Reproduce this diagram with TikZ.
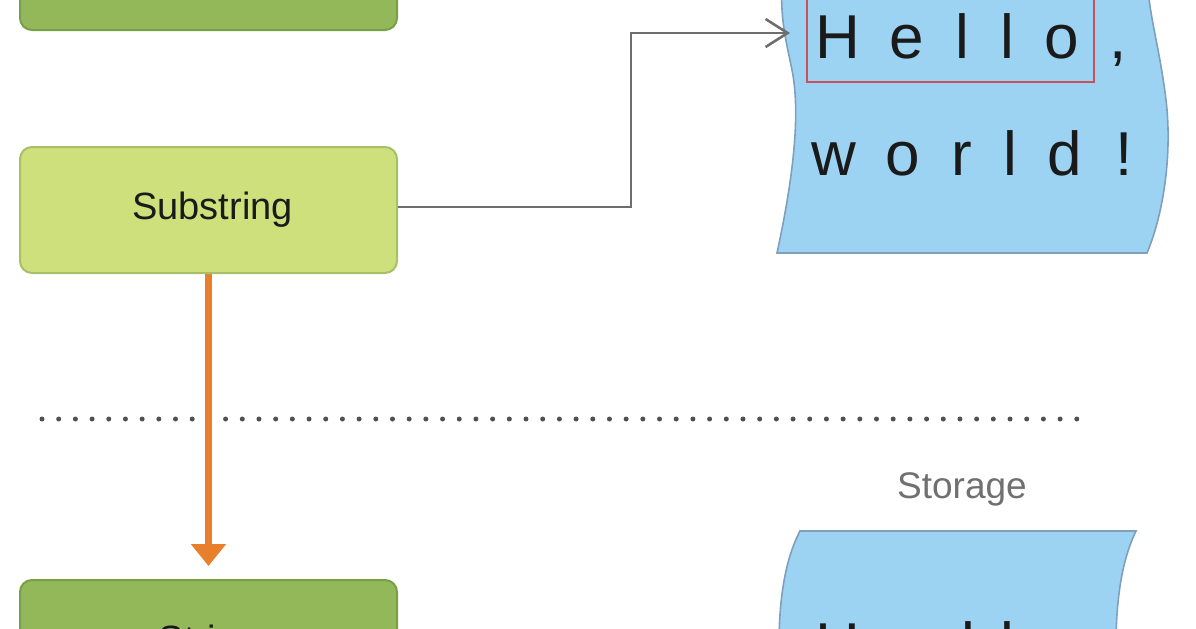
\documentclass[tikz,border=0pt]{standalone}
\usepackage{fontspec}
\setmainfont{Liberation Sans}
\usetikzlibrary{arrows.meta}
\definecolor{gdark}{HTML}{92B85A}
\definecolor{gdarkline}{HTML}{76A047}
\definecolor{glight}{HTML}{CEE07C}
\definecolor{glightline}{HTML}{A7BF68}
\definecolor{bfill}{HTML}{9DD3F2}
\definecolor{bline}{HTML}{7F9FBF}
\definecolor{redbox}{HTML}{C9505C}
\definecolor{orangec}{HTML}{E87F2C}
\definecolor{connc}{HTML}{6E6E6E}
\definecolor{dotc}{HTML}{505050}
\definecolor{labelc}{HTML}{707070}
\definecolor{txt}{HTML}{1A1A1A}
\begin{document}
\begin{tikzpicture}[x=0.5pt,y=-0.5pt,
  box/.style={rectangle, rounded corners=6pt, minimum width=188.5pt, minimum height=63pt, line width=1pt, inner sep=0pt, font=\fontsize{19}{20}\selectfont, text=txt},
  strbox/.style={box, fill=gdark, draw=gdarkline},
  subbox/.style={box, fill=glight, draw=glightline},
  storage/.style={fill=bfill, draw=bline, line width=0.8pt},
  glyph/.style={anchor=base, inner sep=0pt, font=\fontsize{31}{31}\selectfont, text=txt},
  conn/.style={draw=connc, line width=1.3pt, -{Straight Barb[length=11pt,width=14pt,line width=1.3pt]}},
  moveto/.style={draw=orangec, line width=3.5pt, -{Triangle[length=11pt,width=17pt]}},
  lbl/.style={inner sep=0pt, font=\fontsize{18.5}{20}\selectfont, text=labelc}
]
\useasboundingbox (0,0) rectangle (1196,628);
\clip (0,0) rectangle (1196,628);

% top storage shape
\path[storage] (782,-40) -- (782,-20) .. controls (780,20) and (786,40) .. (792,70)
  .. controls (800,110) and (795,170) .. (777,253) -- (1147,253)
  .. controls (1165,210) and (1172,150) .. (1166,100)
  .. controls (1160,50) and (1150,20) .. (1147,-20) -- (1147,-40) -- cycle;
\draw[redbox, line width=1.25pt] (807,-20) rectangle (1094,82);

\node[glyph] (g1) at (838,58) {H};
\node[glyph] (g2) at (907,58) {e};
\node[glyph] (g3) at (962,58) {l};
\node[glyph] (g4) at (1007,58) {l};
\node[glyph] (g5) at (1062,58) {o};
\node[glyph] (g6) at (1118,58) {,};
\node[glyph] (w1) at (834,175) {w};
\node[glyph] (w2) at (903,175) {o};
\node[glyph] (w3) at (962,175) {r};
\node[glyph] (w4) at (1010,175) {l};
\node[glyph] (w5) at (1065,175) {d};
\node[glyph] (w6) at (1124,175) {!};

% bottom storage shape
\path[storage] (800,531) -- (1136,531)
  .. controls (1122,560) and (1115,600) .. (1116,660) -- (779,660)
  .. controls (778,600) and (785,560) .. (800,531) -- cycle;
\node[glyph] (b1) at (838,666) {H};
\node[glyph] (b2) at (907,666) {e};
\node[glyph] (b3) at (968,666) {l};
\node[glyph] (b4) at (1007,666) {l};
\node[glyph] (b5) at (1062,666) {o};

\node[lbl] (storagelbl) at (962,489) {Storage};

% dotted separator
\foreach \k in {0,...,62} \fill[dotc] ({42+16.69*\k},419) circle (1.25pt);

% boxes
\node[strbox] (strtop) at (208.5,-33) {};
\node[subbox] (sub) at (208.5,210) {\hspace*{4pt}Substring};
\node[strbox] (strbot) at (208.5,643) {\raisebox{-3pt}{String}};

% connectors
\coordinate (tip) at (790,33);
\draw[conn] (sub.east) ++(0,-3) -- ++(233,0) |- (tip);
\draw[moveto, shorten >=6.5pt] (sub.south) -- (strbot.north);
\end{tikzpicture}
\end{document}
